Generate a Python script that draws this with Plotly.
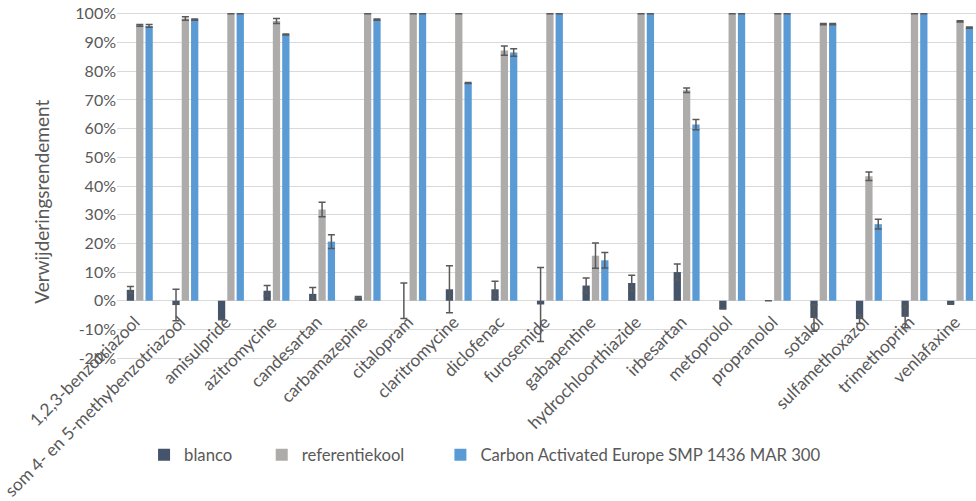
import plotly.graph_objects as go

# Compounds on the category axis
categories = [
    "1,2,3-benzotriazool", "som 4- en 5-methybenzotriazool", "amisulpride",
    "azitromycine", "candesartan", "carbamazepine", "citalopram",
    "claritromycine", "diclofenac", "furosemide", "gabapentine",
    "hydrochloorthiazide", "irbesartan", "metoprolol", "propranolol",
    "sotalol", "sulfamethoxazol", "trimethoprim", "venlafaxine",
]

# Removal efficiency (%) and standard deviation (%) per series
blanco = [3.8, -1.5, -6.6, 3.5, 2.4, 1.2, 0.0, 4.0, 4.0, -1.3, 5.3, 6.2,
          10.0, -2.9, 0.0, -6.0, -6.4, -5.6, -1.2]
blanco_err = [1.2, 5.5, 0.0, 1.8, 2.2, 0.3, 6.2, 8.2, 2.8, 12.9, 2.6, 2.7,
              2.8, 0.0, 0.0, 4.6, 1.5, 3.8, 0.0]

referentiekool = [96.0, 98.4, 100.0, 97.5, 31.8, 100.0, 100.0, 100.0, 87.2,
                  100.0, 15.7, 100.0, 73.4, 100.0, 100.0, 96.4, 43.4, 100.0,
                  97.4]
referentiekool_err = [0.3, 0.6, 0.0, 0.9, 2.5, 0.0, 0.0, 0.0, 1.6, 0.0, 4.4,
                      0.0, 0.8, 0.0, 0.0, 0.2, 1.5, 0.0, 0.2]

carbon = [95.8, 98.0, 100.0, 92.8, 20.6, 98.0, 100.0, 75.9, 86.5, 100.0,
          14.1, 100.0, 61.4, 100.0, 100.0, 96.4, 26.7, 100.0, 95.2]
carbon_err = [0.5, 0.2, 0.0, 0.2, 2.4, 0.2, 0.0, 0.2, 1.3, 0.0, 2.7, 0.0,
              1.8, 0.0, 0.0, 0.2, 1.7, 0.0, 0.2]

# Y-axis ticks: -20% .. 100% in steps of 10%
y_ticks = [t / 100 for t in range(-20, 101, 10)]

FONT = "Lato, 'Open Sans', sans-serif"
TEXT = "#595959"
GRID = "#D9D9D9"

# name, values, errors, colour, legend id, legend x (paper)
series = [
    ("blanco", blanco, blanco_err, "#44546A", "legend", 0.0315),
    ("referentiekool", referentiekool, referentiekool_err, "#AEABAB",
     "legend2", 0.1685),
    ("Carbon Activated Europe SMP 1436 MAR 300", carbon, carbon_err,
     "#5B9BD5", "legend3", 0.3765),
]

fig = go.Figure()
legends = {}
for name, vals, errs, color, leg, lx in series:
    fig.add_trace(go.Bar(
        name=name,
        x=categories,
        y=[v / 100 for v in vals],
        marker=dict(color=color, line=dict(width=0)),
        error_y=dict(type="data", array=[e / 100 for e in errs],
                     color="#595959", thickness=1.5, width=3.5),
        legend=leg,
    ))
    legends[leg] = dict(orientation="h", x=lx, xanchor="left",
                        y=-0.268, yanchor="middle",
                        font=dict(size=16.7, color=TEXT, family=FONT),
                        bgcolor="rgba(0,0,0,0)")

# a little room beyond -20% and 100% keeps both edge gridlines visible
y_lo, y_hi = -0.21, 1.01
zero_pos = (0 - y_lo) / (y_hi - y_lo)
px_per_unit = 286.7
plot_top = 14.3 - (y_hi - 1.0) * px_per_unit
plot_h = (y_hi - y_lo) * px_per_unit
bottom_margin = 501 - plot_top - plot_h

fig.update_layout(
    width=976, height=501,
    margin=dict(l=117, r=0, t=plot_top, b=bottom_margin),
    paper_bgcolor="white", plot_bgcolor="white",
    barmode="group", bargap=0.385, bargroupgap=0.22,
    font=dict(family=FONT, color=TEXT, size=15),
    showlegend=True,
    xaxis=dict(
        type="category", range=[-0.5, 18.35],
        anchor="free", position=zero_pos,
        tickangle=-45, tickfont=dict(size=17.3, color=TEXT),
        ticklabelshift=-5, ticklabelstandoff=7,
        showgrid=False, showline=False, ticks="", automargin=False,
    ),
    yaxis=dict(
        range=[y_lo, y_hi],
        tickmode="array", tickvals=y_ticks,
        ticktext=[f"{round(t * 100)}%" for t in y_ticks],
        showgrid=True, gridcolor=GRID, gridwidth=1,
        zeroline=True, zerolinecolor=GRID, zerolinewidth=1,
        showline=False, ticks="", tickfont=dict(size=16, color=TEXT),
        automargin=False,
    ),
    annotations=[dict(
        text="Verwijderingsrendement", textangle=-90,
        xref="paper", yref="paper", x=-0.0873, y=0.455,
        xanchor="center", yanchor="middle", showarrow=False,
        font=dict(size=19, color=TEXT, family=FONT),
    )],
    **legends,
)

fig.write_html("out.html")
